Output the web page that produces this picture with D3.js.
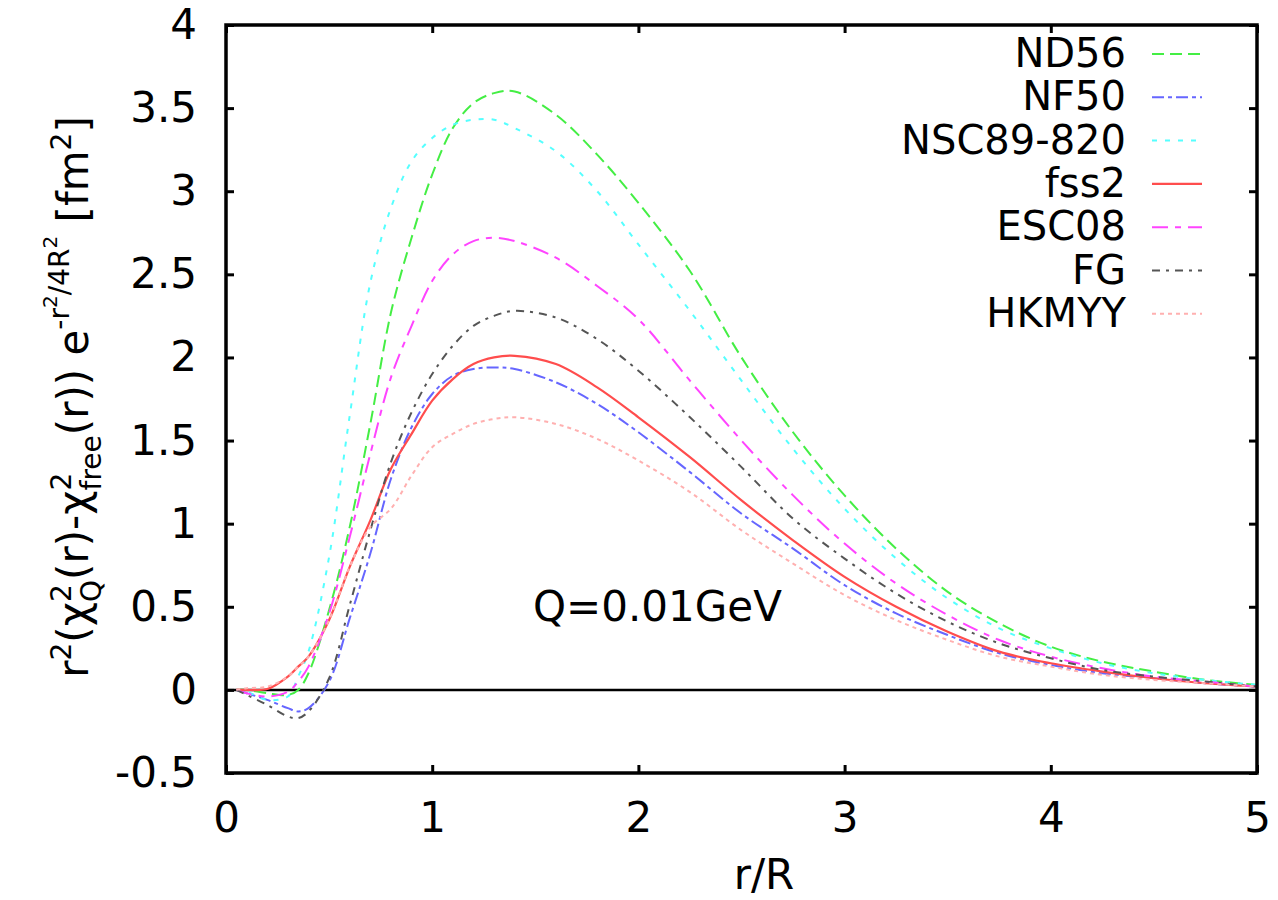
<!DOCTYPE html>
<html><head><meta charset="utf-8">
<script src="https://cdn.jsdelivr.net/npm/d3@7"></script>
<style>
body{margin:0;background:#fff}
svg text{font-family:"DejaVu Sans",sans-serif;fill:#000}
</style></head><body>
<svg id="chart" width="1278" height="900"></svg>
<script>
// ---- data ----
const rGrid  = [0.05,0.1,0.2,0.3,0.35,0.4,0.5,0.6,0.7,0.8,0.9,1.0,1.1,1.2,1.3,1.4,1.6,1.8,2.0,2.25,2.5,2.75,3.0,3.25,3.5,3.75,4.0,4.25,4.5,4.75,5.0];
const nd56   = [0,0,-0.02,-0.03,0.0,0.1,0.48,0.98,1.6,2.27,2.72,3.1,3.38,3.53,3.59,3.6,3.46,3.22,2.93,2.52,2.0,1.55,1.17,0.85,0.59,0.40,0.26,0.17,0.11,0.06,0.03];
const nf50   = [0,-0.02,-0.06,-0.11,-0.13,-0.11,0.05,0.43,0.82,1.27,1.58,1.78,1.89,1.93,1.94,1.93,1.85,1.72,1.55,1.31,1.06,0.85,0.63,0.46,0.33,0.22,0.15,0.10,0.07,0.04,0.02];
const nsc89  = [0,-0.01,-0.06,-0.04,0.08,0.23,0.80,1.65,2.45,2.90,3.18,3.32,3.40,3.43,3.43,3.38,3.24,3.00,2.68,2.28,1.86,1.45,1.09,0.79,0.55,0.37,0.25,0.16,0.10,0.06,0.03];
const fss2   = [0,0,0.005,0.08,0.14,0.20,0.42,0.74,1.02,1.33,1.54,1.74,1.87,1.96,2.0,2.01,1.96,1.82,1.64,1.40,1.14,0.90,0.68,0.50,0.35,0.23,0.16,0.11,0.07,0.04,0.02];
const esc08  = [0,-0.02,-0.04,-0.01,0.05,0.14,0.46,0.92,1.42,1.88,2.19,2.46,2.62,2.70,2.72,2.70,2.60,2.43,2.23,1.86,1.50,1.17,0.88,0.64,0.45,0.30,0.20,0.13,0.08,0.05,0.02];
const fg     = [0,-0.03,-0.09,-0.16,-0.17,-0.13,0.07,0.51,0.96,1.37,1.67,1.90,2.07,2.19,2.25,2.28,2.24,2.11,1.92,1.64,1.34,1.03,0.79,0.58,0.41,0.28,0.19,0.12,0.08,0.05,0.02];
const hkmyy  = [0,0.01,0.02,0.08,0.14,0.20,0.42,0.74,0.98,1.09,1.29,1.46,1.54,1.60,1.63,1.64,1.60,1.51,1.38,1.19,0.96,0.76,0.57,0.42,0.30,0.20,0.14,0.09,0.06,0.04,0.02];
const seriesNames = ["ND56","NF50","NSC89-820","fss2","ESC08","FG","HKMYY"];
const seriesValues = [nd56,nf50,nsc89,fss2,esc08,fg,hkmyy];
const xTicks = [0,1,2,3,4,5];
const yTicks = [-0.5,0,0.5,1,1.5,2,2.5,3,3.5,4];
const annotation = "Q=0.01GeV";

// ---- styles ----
const colors = ["#44ee44","#6666ff","#55ffff","#ff4d4d","#ff44ff","#555555","#ffb0b0"];
const dashes = ["12,6","12,4,4,4","5,8",null,"16,7,6,7","8,6,3,6","4,4"];

const L=226,R=1257,T=25,B=773;
const svg=d3.select("#chart");
const x=d3.scaleLinear().domain([0,5]).range([L,R]);
const y=d3.scaleLinear().domain([-0.5,4]).range([B,T]);

svg.append("defs").append("clipPath").attr("id","clip")
  .append("rect").attr("x",L).attr("y",T).attr("width",R-L).attr("height",B-T);

const fs=42;
const fmt=d=>String(d);
const ax=[
  {g:d3.axisBottom(x).tickValues(xTicks).tickSizeInner(-8).tickSizeOuter(0).tickPadding(29).tickFormat(fmt),t:`translate(0,${B})`},
  {g:d3.axisTop(x).tickValues(xTicks).tickSizeInner(-8).tickSizeOuter(0).tickFormat(""),t:`translate(0,${T})`},
  {g:d3.axisLeft(y).tickValues(yTicks).tickSizeInner(-8).tickSizeOuter(0).tickPadding(29).tickFormat(fmt),t:`translate(${L},0)`},
  {g:d3.axisRight(y).tickValues(yTicks).tickSizeInner(-8).tickSizeOuter(0).tickFormat(""),t:`translate(${R},0)`}
];
ax.forEach(a=>{
  const g=svg.append("g").attr("transform",a.t).call(a.g);
  g.select(".domain").remove();
  g.selectAll(".tick line").attr("stroke","#000").attr("stroke-width",3);
  g.selectAll(".tick text").attr("font-size",fs).attr("font-family","DejaVu Sans").attr("fill","#000");
});

// zero line
svg.append("line").attr("x1",L).attr("x2",R).attr("y1",y(0)).attr("y2",y(0))
  .attr("stroke","#000").attr("stroke-width",2.5);

// curves
const line=d3.line().x(d=>x(d[0])).y(d=>y(d[1])).curve(d3.curveCatmullRom.alpha(0.5));
const cg=svg.append("g").attr("clip-path","url(#clip)");
seriesValues.forEach((vals,i)=>{
  const pts=rGrid.map((r,j)=>[r,vals[j]]);
  cg.append("path").attr("d",line(pts)).attr("fill","none")
    .attr("stroke",colors[i]).attr("stroke-width",i===3?2.2:2)
    .attr("stroke-dasharray",dashes[i]);
});

// frame
svg.append("rect").attr("x",L).attr("y",T).attr("width",R-L).attr("height",B-T)
  .attr("fill","none").attr("stroke","#000").attr("stroke-width",3.5);

// legend
const lfs=40;
seriesNames.forEach((n,i)=>{
  const by=67+i*43.3;
  svg.append("text").attr("x",1126).attr("y",by).attr("text-anchor","end").attr("font-size",lfs).text(n);
  svg.append("line").attr("x1",1152).attr("x2",1202).attr("y1",by-13).attr("y2",by-13)
    .attr("stroke",colors[i]).attr("stroke-width",i===3?2.2:2).attr("stroke-dasharray",dashes[i]);
});

// annotation
svg.append("text").attr("x",533).attr("y",621).attr("font-size",fs).text(annotation);

// x label
svg.append("text").attr("x",764).attr("y",889).attr("text-anchor","middle").attr("font-size",fs).text("r/R");

// y label
const yl=svg.append("text").attr("transform","translate(88,397) rotate(-90)")
  .attr("text-anchor","middle").attr("font-size",fs);
const parts=[
  ["r",42,0,0],["2",28,0,-17],["(χ",42,0,17],["2",28,0,-17],["Q",28,-17.8,30],
  ["(r)-χ",42,0,-13],["2",28,0,-17],["free",28,-17.8,30],["(r)) e",42,0,-13],
  ["-r",28,0,-19],["2",20,0,-12],["/4R",28,0,12],["2",20,0,-12],[" [fm",42,0,31],
  ["2",28,0,-17],["]",42,0,17]
];
parts.forEach(p=>{
  yl.append("tspan").attr("font-size",p[1]).attr("dx",p[2]).attr("dy",p[3]).text(p[0]);
});
</script>
</body></html>
